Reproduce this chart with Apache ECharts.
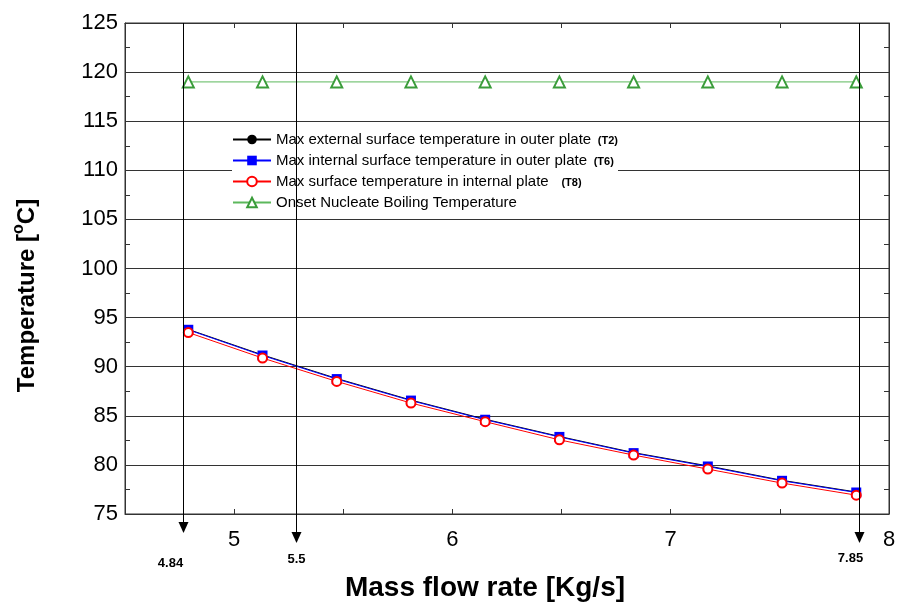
<!DOCTYPE html>
<html>
<head>
<meta charset="utf-8">
<script src="https://cdn.jsdelivr.net/npm/echarts@6/dist/echarts.min.js"></script>
<style>
  html, body { margin: 0; padding: 0; background: #fff; }
  #main { width: 908px; height: 609px; }
</style>
</head>
<body>
<div id="main"></div>
<script>
// mass flow rate (Kg/s)
var flow = [4.79, 5.13, 5.47, 5.81, 6.15, 6.49, 6.83, 7.17, 7.51, 7.85];
// temperatures (°C)
var tExtOuter = [93.8, 91.2, 88.8, 86.6, 84.65, 82.9, 81.25, 79.9, 78.43, 77.24];   // T2
var tIntOuter = [93.76, 91.14, 88.74, 86.55, 84.6, 82.85, 81.2, 79.84, 78.38, 77.19]; // T6
var tIntPlate = [93.48, 90.88, 88.5, 86.3, 84.4, 82.55, 81.0, 79.57, 78.15, 76.92];  // T8
var tONB = [119, 119, 119, 119, 119, 119, 119, 119, 119, 119];

var seriesNames = [
  'Max external surface temperature in outer plate',
  'Max internal surface temperature in outer plate',
  'Max surface temperature in internal plate',
  'Onset Nucleate Boiling Temperature'
];
var seriesTags = ['(T2)', '(T6)', '  (T8)', ''];

// arrow markers on the x axis
var arrowAt = [4.765, 5.285, 7.862];
var arrowLabels = ['4.84', '5.5', '7.85'];

function pairs(ys) {
  return flow.map(function (x, i) { return [x, ys[i]]; });
}

var font = 'Liberation Sans, Arial, sans-serif';
var chart = echarts.init(document.getElementById('main'));

var axisLineStyle = { color: '#333', width: 1 };

var option = {
  animation: false,
  backgroundColor: '#fff',
  textStyle: { fontFamily: font },
  grid: { left: 125, right: 19, top: 23, bottom: 95, show: true, borderColor: '#333', borderWidth: 1 },
  legend: {
    orient: 'vertical',
    left: 232,
    top: 132,
    itemWidth: 38,
    itemHeight: 12,
    itemGap: 6,
    padding: 0,
    backgroundColor: '#fff',
    data: seriesNames,
    formatter: function (name) {
      var i = seriesNames.indexOf(name);
      return seriesTags[i] ? '{n|' + name + '}  {s|' + seriesTags[i] + '}' : '{n|' + name + '}';
    },
    textStyle: {
      color: '#000',
      rich: {
        n: { fontSize: 15, fontFamily: font, color: '#000', lineHeight: 17 },
        s: { fontSize: 11, fontFamily: font, color: '#000', fontWeight: 'bold', padding: [3, 0, 0, 0] }
      }
    }
  },
  xAxis: [{
    type: 'value',
    min: 4.5, max: 8, interval: 0.5,
    name: 'Mass flow rate [Kg/s]',
    nameLocation: 'middle',
    nameGap: 60,
    nameTextStyle: { fontSize: 28, color: '#000', fontFamily: font, fontWeight: 'bold', padding: [0, 44, 0, 0] },
    axisLine: { lineStyle: axisLineStyle },
    axisTick: { show: true, inside: true, length: 5, lineStyle: axisLineStyle },
    axisLabel: {
      fontSize: 22, color: '#000', margin: 15,
      formatter: function (v) { return Number.isInteger(v) ? String(v) : ''; }
    },
    splitLine: { show: false }
  }, {
    type: 'value',
    position: 'top',
    min: 4.5, max: 8, interval: 0.5,
    axisLine: { lineStyle: axisLineStyle },
    axisTick: { show: true, inside: true, length: 5, lineStyle: axisLineStyle },
    axisLabel: { show: false },
    splitLine: { show: false }
  }, {
    type: 'value',
    min: 4.5, max: 8, interval: 1,
    show: false,
    splitLine: { show: true, lineStyle: { color: '#333', width: 1 } }
  }],
  yAxis: [{
    type: 'value',
    min: 75, max: 125, interval: 5,
    name: '{a|Temperature [}{o|o}{a|C]}',
    nameLocation: 'middle',
    nameRotate: 90,
    nameGap: 82,
    nameTextStyle: {
      padding: [0, 54, 0, 0],
      rich: {
        a: { fontSize: 24, color: '#000', fontFamily: font, fontWeight: 'bold' },
        o: { fontSize: 16, color: '#000', fontFamily: font, fontWeight: 'bold', padding: [0, 0, 16, 0] }
      }
    },
    axisLine: { lineStyle: axisLineStyle },
    axisTick: { show: true, inside: true, length: 0, lineStyle: axisLineStyle },
    minorTick: { show: true, splitNumber: 2, length: 5, lineStyle: axisLineStyle },
    axisLabel: { fontSize: 22, color: '#000', margin: 7 },
    splitLine: { show: true, lineStyle: { color: '#333', width: 1 } }
  }, {
    type: 'value',
    position: 'right',
    min: 75, max: 125, interval: 5,
    axisLine: { show: true, lineStyle: axisLineStyle },
    axisTick: { show: true, inside: true, length: 0, lineStyle: axisLineStyle },
    minorTick: { show: true, splitNumber: 2, length: 5, lineStyle: axisLineStyle },
    axisLabel: { show: false },
    splitLine: { show: false }
  }],
  series: [{
    name: seriesNames[0],
    type: 'line',
    data: pairs(tExtOuter),
    symbol: 'circle',
    symbolSize: 7,
    itemStyle: { color: '#000' },
    lineStyle: { color: '#000', width: 1 },
    z: 3
  }, {
    name: seriesNames[1],
    type: 'line',
    data: pairs(tIntOuter),
    symbol: 'rect',
    symbolSize: 10,
    itemStyle: { color: '#0000ff' },
    lineStyle: { color: '#0000ff', width: 1 },
    z: 4
  }, {
    name: seriesNames[2],
    type: 'line',
    data: pairs(tIntPlate),
    symbol: 'emptyCircle',
    symbolSize: 9,
    itemStyle: { color: '#ff0000', borderWidth: 1 },
    lineStyle: { color: '#ff0000', width: 1 },
    z: 5
  }, {
    name: seriesNames[3],
    type: 'line',
    data: pairs(tONB),
    symbol: 'emptyTriangle',
    symbolSize: 11,
    itemStyle: { color: '#3a9c3a', borderWidth: 1 },
    lineStyle: { color: '#5cb85c', width: 1 },
    z: 5
  }]
};

chart.setOption(option);

// arrows pointing to the chosen flow rates, drawn past the bottom axis
var topY = chart.convertToPixel({ yAxisIndex: 0 }, 125);
var axisY = chart.convertToPixel({ yAxisIndex: 0 }, 75);
var tipDrop = [19, 29, 29];
var labelDx = [-13, 0, -9];
var labelDy = [49, 45, 44];
var graphics = [];
arrowAt.forEach(function (v, i) {
  var x = Math.round(chart.convertToPixel({ xAxisIndex: 0 }, v)) + 0.5;
  var tip = axisY + tipDrop[i];
  graphics.push({
    type: 'line', silent: true, z: 10,
    shape: { x1: x, y1: topY, x2: x, y2: tip - 8 },
    style: { stroke: '#000', lineWidth: 1 }
  });
  graphics.push({
    type: 'polygon', silent: true, z: 10,
    shape: { points: [[x - 5, tip - 11], [x + 5, tip - 11], [x, tip]] },
    style: { fill: '#000' }
  });
  graphics.push({
    type: 'text', silent: true, z: 10,
    x: x + labelDx[i], y: axisY + labelDy[i],
    style: {
      text: arrowLabels[i], fill: '#000',
      font: 'bold 13px ' + font,
      align: 'center', verticalAlign: 'middle'
    }
  });
});
chart.setOption({ graphic: graphics });
</script>
</body>
</html>
